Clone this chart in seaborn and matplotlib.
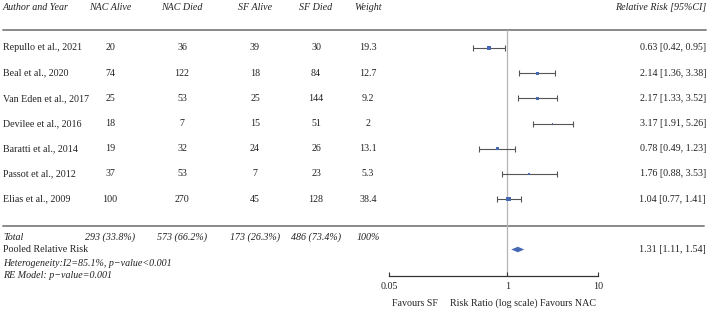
import numpy as np
import pandas as pd
import matplotlib
matplotlib.use("Agg")
import matplotlib.pyplot as plt
import seaborn as sns

# data
studies = ["Repullo et al., 2021", "Beal et al., 2020", "Van Eden et al., 2017",
           "Devilee et al., 2016", "Baratti et al., 2014", "Passot et al., 2012",
           "Elias et al., 2009"]
nac_alive = [20, 74, 25, 18, 19, 37, 100]
nac_died = [36, 122, 53, 7, 32, 53, 270]
sf_alive = [39, 18, 25, 15, 24, 7, 45]
sf_died = [30, 84, 144, 51, 26, 23, 128]
weight = [19.3, 12.7, 9.2, 2, 13.1, 5.3, 38.4]
rr = [0.63, 2.14, 2.17, 3.17, 0.78, 1.76, 1.04]
rr_lo = [0.42, 1.36, 1.33, 1.91, 0.49, 0.88, 0.77]
rr_hi = [0.95, 3.38, 3.52, 5.26, 1.23, 3.53, 1.41]
totals = ["293 (33.8%)", "573 (66.2%)", "173 (26.3%)", "486 (73.4%)", "100%"]
pooled = [1.31, 1.11, 1.54]
headers = ["NAC Alive", "NAC Died", "SF Alive", "SF Died", "Weight"]
ticks = [0.05, 1, 10]

df = pd.DataFrame({"study": studies, "rr": rr, "lo": rr_lo, "hi": rr_hi,
                   "weight": weight})
df["row"] = np.arange(len(df))

sns.set_theme(style="white")
plt.rcParams["font.family"] = ["Liberation Serif", "DejaVu Serif"]
fs = 7.2
txt = "#222222"

W, H = 709, 313
fig = plt.figure(figsize=(W / 100, H / 100), dpi=100)

# rows are 25.17 px apart, first study row at y=48 px
step, y0 = 25.17, 48


def py(p):
    return (p - y0) / step


# table axes covering the whole figure (x in px, y in rows)
tab = fig.add_axes([0, 0, 1, 1])
tab.set_xlim(0, W)
tab.set_ylim(py(H), py(0))
tab.axis("off")

col_x = [110, 182, 255, 316, 368]

tab.text(3, py(7), "Author and Year", style="italic", fontsize=fs, color=txt,
         va="center", ha="left")
for x, h in zip(col_x, headers):
    tab.text(x, py(7), h, style="italic", fontsize=fs, color=txt,
             va="center", ha="center")
tab.text(706, py(7), "Relative Risk [95%CI]", style="italic", fontsize=fs,
         color=txt, va="center", ha="right")

tab.plot([3, 706], [py(29.5)] * 2, color="#8a8a8a", lw=1.4)
tab.plot([3, 704], [py(226)] * 2, color="#8a8a8a", lw=1.4)

for i, r in df.iterrows():
    y = r["row"]
    tab.text(3, y, r["study"], fontsize=fs, color=txt, va="center")
    vals = [nac_alive[i], nac_died[i], sf_alive[i], sf_died[i], weight[i]]
    for x, v in zip(col_x, vals):
        tab.text(x, y, f"{v:g}", fontsize=fs, color=txt, va="center",
                 ha="center")
    tab.text(706, y, f"{r['rr']:.2f} [{r['lo']:.2f}, {r['hi']:.2f}]",
             fontsize=fs, color=txt, va="center", ha="right")

tab.text(3, py(237), "Total", style="italic", fontsize=fs, color=txt,
         va="center")
for x, t in zip(col_x, totals):
    tab.text(x, py(237), t, style="italic", fontsize=fs, color=txt,
             va="center", ha="center")
tab.text(3, py(249.5), "Pooled Relative Risk", fontsize=fs, color=txt,
         va="center")
tab.text(3, py(263), "Heterogeneity:I2=85.1%, p\u2212value<0.001",
         style="italic", fontsize=fs, color=txt, va="center")
tab.text(3, py(276), "RE Model: p\u2212value=0.001", style="italic",
         fontsize=fs, color=txt, va="center")
tab.text(706, py(249.5), f"{pooled[0]:.2f} [{pooled[1]:.2f}, {pooled[2]:.2f}]",
         fontsize=fs, color=txt, va="center", ha="right")

# forest axes: 0.05..10 between x=389 and x=598 px, bottom at y=276 px
top_px, bot_px = 30, 276
fax = fig.add_axes([389 / W, 1 - bot_px / H, (598 - 389) / W,
                    (bot_px - top_px) / H])
fax.patch.set_alpha(0)
fax.set_xscale("log")
fax.set_xlim(ticks[0], ticks[-1])
fax.set_ylim(py(bot_px), py(top_px))
for s in ["top", "left", "right"]:
    fax.spines[s].set_visible(False)
fax.spines["bottom"].set_color("#333333")
fax.spines["bottom"].set_linewidth(0.9)
fax.set_yticks([])
fax.set_xticks(ticks)
fax.set_xticklabels([f"{t:g}" for t in ticks])
fax.minorticks_off()
fax.tick_params(axis="x", direction="in", length=3, width=0.8,
                colors="#333333", labelsize=fs, pad=4, bottom=True)
for lab in fax.get_xticklabels():
    lab.set_color(txt)

fax.axvline(1, color="#b5b5b5", lw=0.9, zorder=0)

fax.errorbar(df["rr"], df["row"],
             xerr=[df["rr"] - df["lo"], df["hi"] - df["rr"]],
             fmt="none", ecolor="#555555", elinewidth=0.8, capsize=2.2,
             capthick=0.8, zorder=2)
sns.scatterplot(data=df, x="rr", y="row", size="weight", sizes=(0.5, 13),
                size_norm=(0, 40), marker="s", color="#4668b0",
                edgecolor="none", legend=False, ax=fax, zorder=3,
                clip_on=False)
fax.set_xlabel("Risk Ratio (log scale)", fontsize=fs, color=txt,
               labelpad=6)
fax.set_ylabel("")

# pooled diamond
yd = py(249.5)
fax.fill([pooled[1], pooled[0], pooled[2], pooled[0]],
         [yd, yd - 0.11, yd, yd + 0.11], color="#4468b2", lw=0, zorder=3)

fax.text(0.124, -0.11, "Favours SF", transform=fax.transAxes,
         fontsize=fs, color=txt, ha="center", va="center")
fax.text(0.856, -0.11, "Favours NAC", transform=fax.transAxes,
         fontsize=fs, color=txt, ha="center", va="center")

fig.savefig("out.png", dpi=100)
